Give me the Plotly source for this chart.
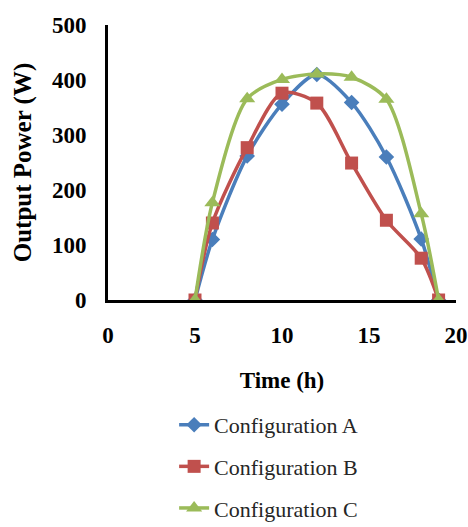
import plotly.graph_objects as go

time_h = [5, 6, 8, 10, 12, 14, 16, 18, 19]
config_a = [0, 110, 262, 356, 410, 359, 260, 111, 0]
config_b = [0, 140, 277, 376, 358, 249, 145, 76, 0]
config_c = [0, 177, 366, 401, 411, 405, 365, 157, 0]
x_ticks = [0, 5, 10, 15, 20]
y_ticks = [0, 100, 200, 300, 400, 500]

series = [
    ("Configuration A", config_a, "#4A7EBB", "diamond", 12),
    ("Configuration B", config_b, "#C0504D", "square", 13),
    ("Configuration C", config_c, "#9BBB59", "triangle-up", 14),
]

fig = go.Figure()
for i, (name, ys, color, sym, sz) in enumerate(series):
    fig.add_trace(go.Scatter(
        x=time_h, y=ys, name=name, mode="lines+markers",
        line=dict(color=color, width=3.5, shape="spline", smoothing=0.8),
        marker=dict(symbol=sym, size=sz, color=color),
        legendgroup=f"g{i}",
    ))

font_serif = "Liberation Serif"
fig.update_layout(
    width=468, height=527,
    margin=dict(l=108, r=12, t=25, b=227, autoexpand=False),
    paper_bgcolor="white", plot_bgcolor="white",
    font=dict(family=font_serif, color="black"),
    showlegend=True,
    legend=dict(
        orientation="v", x=0.19, xanchor="left", y=-0.378, yanchor="top",
        font=dict(family=font_serif, size=22, color="#262626"),
        tracegroupgap=10,
    ),
    xaxis=dict(
        range=[0, 20], tickvals=x_ticks, showgrid=False, zeroline=False,
        showline=True, linecolor="black", linewidth=3, automargin=False,
        ticks="outside", ticklen=12, tickcolor="rgba(0,0,0,0)",
        tickfont=dict(family=font_serif, size=23, color="black", weight="bold"),
        title=dict(text="<b>Time (h)</b>", font=dict(family=font_serif, size=23), standoff=26),
    ),
    yaxis=dict(
        range=[0, 500], tickvals=y_ticks, showgrid=False, zeroline=False,
        showline=True, linecolor="black", linewidth=3, automargin=False,
        ticks="outside", ticklen=14, tickcolor="rgba(0,0,0,0)",
        tickfont=dict(family=font_serif, size=23, color="black", weight="bold"),
        title=dict(text="<b>Output Power (W)</b>", font=dict(family=font_serif, size=25), standoff=14),
    ),
)

fig.write_html(
    "out.html",
    config={"displayModeBar": False},
    post_script="document.body.style.margin='0px';document.body.style.overflow='hidden';",
)
